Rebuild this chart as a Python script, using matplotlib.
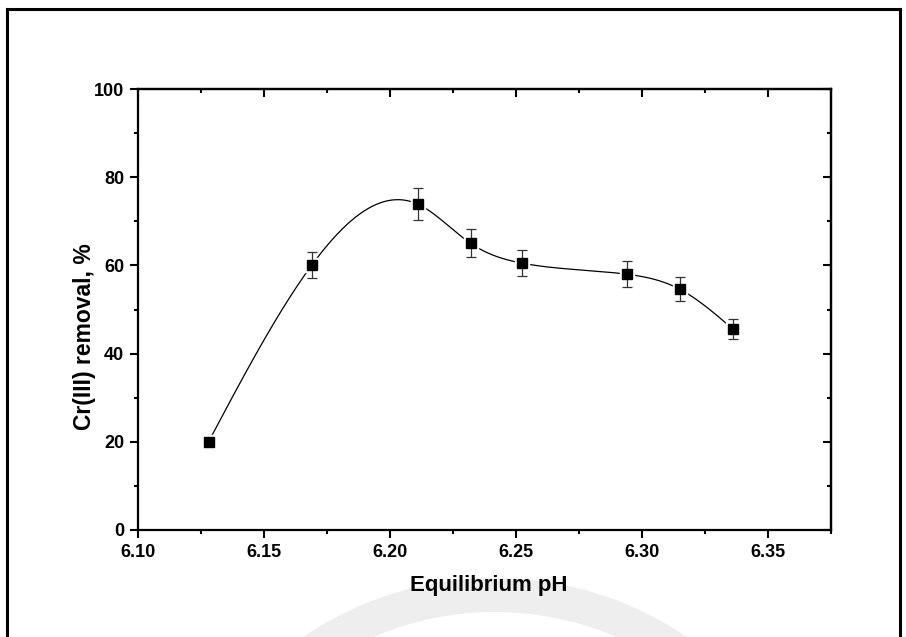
import numpy as np
import matplotlib
matplotlib.use("Agg")
import matplotlib.pyplot as plt
from matplotlib.lines import Line2D
from matplotlib.patches import Wedge
from matplotlib.ticker import MultipleLocator, FormatStrFormatter

# Equilibrium pH vs. Cr(III) removal with standard deviations
ph = [6.128, 6.169, 6.211, 6.232, 6.2525, 6.294, 6.315, 6.336]
removal = [20.0, 60.1, 73.9, 65.0, 60.5, 58.0, 54.6, 45.6]
removal_err = [0.0, 3.0, 3.6, 3.2, 3.0, 2.9, 2.75, 2.2]

x_ticks = [6.10, 6.15, 6.20, 6.25, 6.30, 6.35]
y_ticks = [0, 20, 40, 60, 80, 100]


def natural_cubic_spline(x, y, n=400):
    """Evaluate a natural cubic spline through (x, y) on a dense grid."""
    x = np.asarray(x, float)
    y = np.asarray(y, float)
    k = len(x)
    h = np.diff(x)
    A = np.zeros((k, k))
    b = np.zeros(k)
    A[0, 0] = A[-1, -1] = 1.0
    for i in range(1, k - 1):
        A[i, i - 1] = h[i - 1]
        A[i, i] = 2 * (h[i - 1] + h[i])
        A[i, i + 1] = h[i]
        b[i] = 6 * ((y[i + 1] - y[i]) / h[i] - (y[i] - y[i - 1]) / h[i - 1])
    M = np.linalg.solve(A, b)
    xs = np.linspace(x[0], x[-1], n)
    idx = np.clip(np.searchsorted(x, xs) - 1, 0, k - 2)
    x0, x1 = x[idx], x[idx + 1]
    hh = x1 - x0
    t0, t1 = x1 - xs, xs - x0
    ys = (M[idx] * t0 ** 3 + M[idx + 1] * t1 ** 3) / (6 * hh) \
        + (y[idx] / hh - M[idx] * hh / 6) * t0 \
        + (y[idx + 1] / hh - M[idx + 1] * hh / 6) * t1
    return xs, ys


plt.rcParams["font.family"] = ["Liberation Sans", "DejaVu Sans"]
plt.rcParams["font.weight"] = "bold"

fig = plt.figure(figsize=(9.06, 6.37), dpi=100)

# faint circular emblem in the background (coordinates in inches)
ring = Wedge((4.95, 6.37 - 9.20), 3.42, 0, 360, width=0.34,
             transform=fig.dpi_scale_trans, facecolor="#eeeeee",
             edgecolor="none", zorder=0)
fig.add_artist(ring)

# outer frame (open at the bottom edge)
fw = 2.2
kw = dict(color="black", lw=fw, transform=fig.transFigure,
          solid_capstyle="projecting")
fig.add_artist(Line2D([7 / 906, 7 / 906], [0, 1 - 9 / 637], **kw))
fig.add_artist(Line2D([7 / 906, 900 / 906], [1 - 9 / 637, 1 - 9 / 637], **kw))
fig.add_artist(Line2D([900 / 906, 900 / 906], [0, 1 - 9 / 637], **kw))

ax = fig.add_axes([138 / 906, 1 - 530 / 637, (831 - 138) / 906, (530 - 89) / 637])
ax.patch.set_alpha(0)

xs, ys = natural_cubic_spline(ph, removal)
ax.plot(xs, ys, color="black", lw=0.9, zorder=2)
# white halo so the curve stops just short of each marker
ax.plot(ph, removal, linestyle="none", marker="s", markersize=10.5,
        markerfacecolor="white", markeredgecolor="white", zorder=3)
ax.errorbar(ph, removal, yerr=removal_err, fmt="none", ecolor="#333333",
            elinewidth=0.9, capsize=3.4, capthick=0.9, zorder=4)
ax.plot(ph, removal, linestyle="none", marker="s", markersize=6.6,
        markerfacecolor="black", markeredgecolor="black", zorder=5)

ax.set_xlim(6.10, 6.375)
ax.set_ylim(0, 100)
ax.set_xticks(x_ticks)
ax.set_yticks(y_ticks)
ax.xaxis.set_minor_locator(MultipleLocator(0.025))
ax.yaxis.set_minor_locator(MultipleLocator(10))
ax.xaxis.set_major_formatter(FormatStrFormatter("%.2f"))

for s in ax.spines.values():
    s.set_linewidth(1.6)

ax.tick_params(axis="both", which="major", length=6, width=1.5,
               labelsize=13, pad=4)
ax.tick_params(axis="both", which="minor", length=3, width=1.5)
ax.tick_params(axis="x", which="both", direction="out", top=False)
ax.tick_params(axis="y", which="both", direction="out", right=False)

# inward ticks on the top and right edges
ax_t = ax.secondary_xaxis("top")
ax_t.set_xticks(x_ticks)
ax_t.xaxis.set_minor_locator(MultipleLocator(0.025))
ax_t.tick_params(which="major", direction="in", length=6, width=1.5,
                 labeltop=False)
ax_t.tick_params(which="minor", direction="in", length=3, width=1.5)
ax_t.spines["top"].set_linewidth(1.6)

ax_r = ax.secondary_yaxis("right")
ax_r.set_yticks(y_ticks)
ax_r.yaxis.set_minor_locator(MultipleLocator(10))
ax_r.tick_params(which="major", direction="in", length=6, width=1.5,
                 labelright=False)
ax_r.tick_params(which="minor", direction="in", length=3, width=1.5)
ax_r.spines["right"].set_linewidth(1.6)

ax.set_xlabel("Equilibrium pH", fontsize=16, fontweight="bold")
ax.set_ylabel("Cr(III) removal, %", fontsize=16.5, fontweight="bold")
ax.xaxis.set_label_coords((489 - 138) / 693, (530 - 585) / 441)
ax.xaxis.label.set_va("center")
ax.yaxis.set_label_coords((85 - 138) / 693, (530 - 337) / 441)
ax.yaxis.label.set_va("center")

fig.savefig("out.png", dpi=100)
